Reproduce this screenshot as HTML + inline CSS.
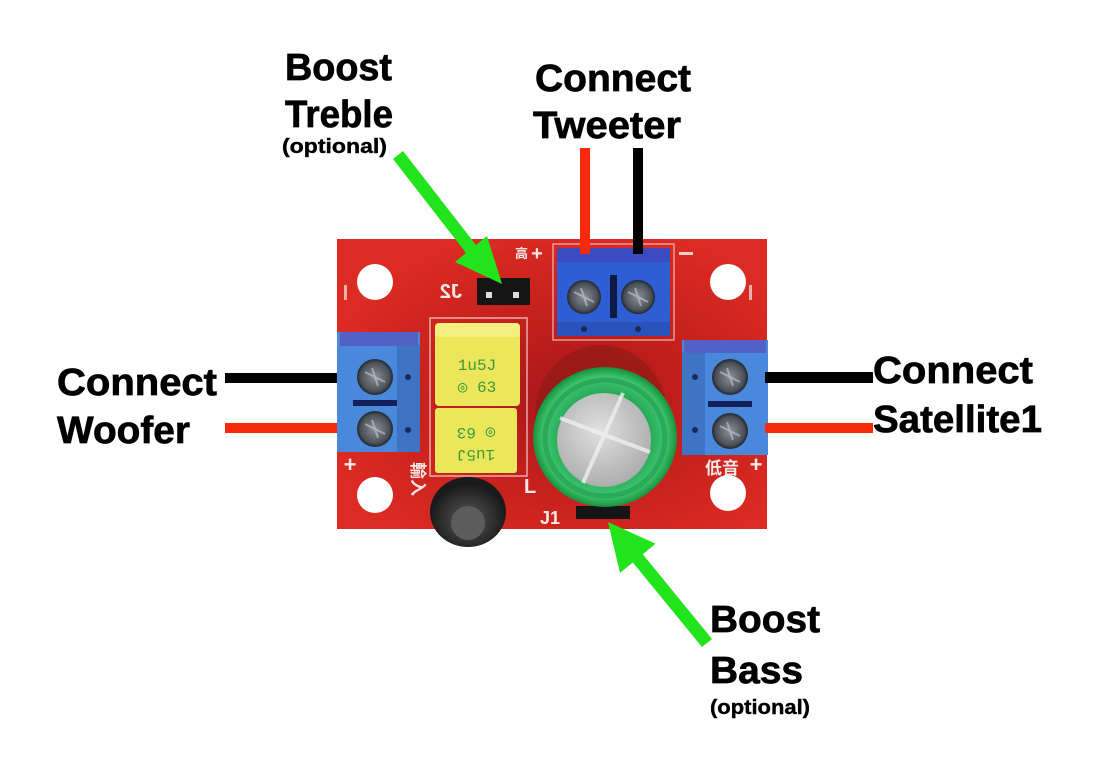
<!DOCTYPE html>
<html><head><meta charset="utf-8"><style>
html,body{margin:0;padding:0;background:#fff;}
svg{display:block;}
.t{font-family:"Liberation Sans",Arial,sans-serif;font-weight:bold;fill:#000;stroke:#000;stroke-width:0.7;}
.s{font-family:"Liberation Sans","Noto Sans CJK SC",sans-serif;fill:#f4e8e6;font-weight:bold;}
</style></head><body>
<svg width="1111" height="764" viewBox="0 0 1111 764" xmlns="http://www.w3.org/2000/svg">
<defs>
<radialGradient id="brd" cx="0.55" cy="0.55" r="0.6">
<stop offset="0" stop-color="#a8171a"/><stop offset="0.5" stop-color="#c4201c"/><stop offset="1" stop-color="#dc2b23"/>
</radialGradient>
<radialGradient id="grn" cx="0.5" cy="0.5" r="0.5">
<stop offset="0.6" stop-color="#22a552"/><stop offset="0.85" stop-color="#40c870"/><stop offset="1" stop-color="#18913f"/>
</radialGradient>
<radialGradient id="slv" cx="0.45" cy="0.4" r="0.6">
<stop offset="0" stop-color="#e0e0e0"/><stop offset="1" stop-color="#aeaeae"/>
</radialGradient>
<radialGradient id="scr" cx="0.5" cy="0.5" r="0.5">
<stop offset="0" stop-color="#8a9098"/><stop offset="0.8" stop-color="#4a5058"/><stop offset="1" stop-color="#22262c"/>
</radialGradient>
<radialGradient id="ind" cx="0.5" cy="0.6" r="0.5">
<stop offset="0" stop-color="#5a5a5a"/><stop offset="0.5" stop-color="#3a3a3a"/><stop offset="1" stop-color="#1a1a1a"/>
</radialGradient>
</defs>

<!-- board -->
<rect x="337" y="239" width="430" height="290" fill="url(#brd)"/>
<!-- holes -->
<circle cx="375" cy="282" r="18" fill="#fff"/>
<circle cx="375" cy="495" r="18" fill="#fff"/>
<circle cx="728" cy="282" r="18" fill="#fff"/>
<circle cx="728" cy="493" r="18" fill="#fff"/>

<!-- silkscreen -->
<rect x="430" y="318" width="97" height="158" fill="none" stroke="#f0d0cc" stroke-width="1.5" opacity="0.8"/>
<rect x="553" y="244" width="121" height="96" fill="none" stroke="#f0d0cc" stroke-width="1.5" opacity="0.7"/>
<text class="s" x="537" y="260" font-size="20" text-anchor="middle">+</text>
<rect x="679" y="252" width="14" height="3" fill="#f0d0cc"/>
<rect x="344" y="285" width="3" height="15" fill="#f0d0cc" opacity="0.8"/>
<rect x="749" y="285" width="3" height="15" fill="#f0d0cc" opacity="0.8"/>
<text class="s" x="0" y="0" font-size="20" transform="translate(462,298) scale(-1,1)" text-anchor="start" font-weight="normal">J2</text>
<text class="s" x="515" y="258" font-size="13" font-weight="normal">高</text>
<text class="s" x="350" y="472" font-size="22" text-anchor="middle">+</text>
<text class="s" x="756" y="472" font-size="22" text-anchor="middle">+</text>
<text class="s" x="705" y="474" font-size="17">低音</text>
<text class="s" x="0" y="0" font-size="17" transform="translate(412,462) rotate(90)">輸入</text>
<text class="s" x="524" y="493" font-size="20" font-weight="normal">L</text>
<text class="s" x="540" y="524" font-size="18" font-weight="normal">J1</text>

<!-- left terminal -->
<rect x="337" y="332" width="83" height="120" fill="#4a88dc"/>
<rect x="397" y="345" width="23" height="107" fill="#3f74c4"/>
<rect x="340" y="332" width="78" height="14" fill="#5360c4"/>
<circle cx="375" cy="377" r="18" fill="url(#scr)"/>
<circle cx="375" cy="429" r="18" fill="url(#scr)"/>
<path d="M365 372 l20 10 M372 368 l6 18" stroke="#c8ccd0" stroke-width="2" opacity="0.6"/>
<path d="M365 424 l20 10 M372 420 l6 18" stroke="#c8ccd0" stroke-width="2" opacity="0.6"/>
<rect x="353" y="400" width="44" height="6" fill="#13205a"/>
<circle cx="408" cy="377" r="3" fill="#1a2a5a"/>
<circle cx="408" cy="430" r="3" fill="#1a2a5a"/>

<!-- right terminal -->
<rect x="682" y="340" width="86" height="115" fill="#4a88dc"/>
<rect x="682" y="352" width="23" height="103" fill="#3f74c4"/>
<rect x="684" y="340" width="82" height="13" fill="#5360c4"/>
<circle cx="730" cy="377" r="18" fill="url(#scr)"/>
<circle cx="730" cy="431" r="18" fill="url(#scr)"/>
<path d="M720 372 l20 10 M727 368 l6 18" stroke="#c8ccd0" stroke-width="2" opacity="0.6"/>
<path d="M720 426 l20 10 M727 422 l6 18" stroke="#c8ccd0" stroke-width="2" opacity="0.6"/>
<rect x="708" y="401" width="44" height="6" fill="#13205a"/>
<circle cx="695" cy="377" r="3" fill="#1a2a5a"/>
<circle cx="695" cy="430" r="3" fill="#1a2a5a"/>

<!-- top terminal -->
<rect x="557" y="248" width="113" height="88" fill="#2f5ed4"/>
<rect x="557" y="248" width="113" height="14" fill="#3a4cc0"/>
<rect x="557" y="322" width="113" height="14" fill="#2a52bc"/>
<circle cx="584" cy="297" r="17" fill="url(#scr)"/>
<circle cx="638" cy="297" r="17" fill="url(#scr)"/>
<path d="M574 292 l20 10 M581 288 l6 18" stroke="#c8ccd0" stroke-width="2" opacity="0.6"/>
<path d="M628 292 l20 10 M635 288 l6 18" stroke="#c8ccd0" stroke-width="2" opacity="0.6"/>
<rect x="610" y="275" width="7" height="43" fill="#101a40"/>
<circle cx="584" cy="329" r="3" fill="#1a2a5a"/>
<circle cx="638" cy="329" r="3" fill="#1a2a5a"/>

<!-- yellow caps -->
<rect x="435" y="323" width="85" height="83" rx="4" fill="#ece65a"/>
<rect x="435" y="323" width="85" height="14" rx="4" fill="#f3ef80"/>
<text x="477" y="370" font-family="Liberation Mono,monospace" font-size="16" fill="#3c9a40" text-anchor="middle">1u5J</text>
<text x="477" y="392" font-family="Liberation Mono,monospace" font-size="16" fill="#3c9a40" text-anchor="middle">◎ 63</text>
<rect x="435" y="408" width="82" height="65" rx="3" fill="#ece65a"/>
<g transform="rotate(180 476 440)">
<text x="476" y="430" font-family="Liberation Mono,monospace" font-size="16" fill="#3c9a40" text-anchor="middle">1u5J</text>
<text x="476" y="452" font-family="Liberation Mono,monospace" font-size="16" fill="#3c9a40" text-anchor="middle">◎ 63</text>
</g>

<!-- J2 jumper -->
<rect x="477" y="278" width="53" height="27" fill="#151515"/>
<rect x="486" y="292" width="6" height="6" fill="#ddd"/>
<rect x="513" y="292" width="6" height="6" fill="#ddd"/>

<!-- electrolytic cap shadow -->
<ellipse cx="601" cy="415" rx="66" ry="70" fill="#8a1a15" opacity="0.6"/>
<!-- J1 jumper -->
<rect x="576" y="506" width="54" height="13" fill="#151515"/>
<!-- green cap -->
<ellipse cx="605" cy="437" rx="72" ry="70" fill="url(#grn)"/>
<ellipse cx="605" cy="438" rx="60" ry="58" fill="none" stroke="#1a8e45" stroke-width="5" opacity="0.5"/>
<circle cx="604" cy="440" r="47" fill="url(#slv)"/>
<path d="M560 418 L650 452 M623 393 L583 483" stroke="#f2f2f2" stroke-width="4" opacity="0.75"/>

<!-- inductor -->
<ellipse cx="468" cy="512" rx="38" ry="35" fill="url(#ind)"/>
<circle cx="468" cy="523" r="17" fill="#5c5c5c"/>

<!-- wires -->
<rect x="580" y="148" width="10" height="106" fill="#f52a0a"/>
<rect x="633" y="148" width="10" height="106" fill="#000"/>
<rect x="225" y="373" width="112" height="10" fill="#000"/>
<rect x="225" y="423" width="112" height="10" fill="#f52a0a"/>
<rect x="765" y="372" width="108" height="11" fill="#000"/>
<rect x="765" y="423" width="108" height="10" fill="#f52a0a"/>

<!-- arrows -->
<polygon points="403,151 476,245 487,236 502,284 455,262 466,253 393,159" fill="#22e41c"/>
<polygon points="608,522 655.6,543.8 642.8,554.3 712,639 702,647 632.8,562.5 620,572.9" fill="#22e41c"/>

<!-- labels -->
<text class="t" x="285" y="80" font-size="38" textLength="107" lengthAdjust="spacingAndGlyphs">Boost</text>
<text class="t" x="285" y="127" font-size="38" textLength="108" lengthAdjust="spacingAndGlyphs">Treble</text>
<text class="t" x="282" y="153" font-size="20" textLength="105" lengthAdjust="spacingAndGlyphs" style="stroke-width:0.4">(optional)</text>

<text class="t" x="535" y="91" font-size="38" textLength="156" lengthAdjust="spacingAndGlyphs">Connect</text>
<text class="t" x="533" y="138" font-size="38" textLength="148" lengthAdjust="spacingAndGlyphs">Tweeter</text>

<text class="t" x="57" y="395" font-size="38" textLength="160" lengthAdjust="spacingAndGlyphs">Connect</text>
<text class="t" x="57" y="443" font-size="38" textLength="133" lengthAdjust="spacingAndGlyphs">Woofer</text>

<text class="t" x="873" y="383" font-size="38" textLength="160" lengthAdjust="spacingAndGlyphs">Connect</text>
<text class="t" x="873" y="432" font-size="38" textLength="169" lengthAdjust="spacingAndGlyphs">Satellite1</text>

<text class="t" x="710" y="632" font-size="38" textLength="110" lengthAdjust="spacingAndGlyphs">Boost</text>
<text class="t" x="710" y="683" font-size="38" textLength="93" lengthAdjust="spacingAndGlyphs">Bass</text>
<text class="t" x="710" y="714" font-size="20" textLength="100" lengthAdjust="spacingAndGlyphs" style="stroke-width:0.4">(optional)</text>
</svg>
</body></html>
